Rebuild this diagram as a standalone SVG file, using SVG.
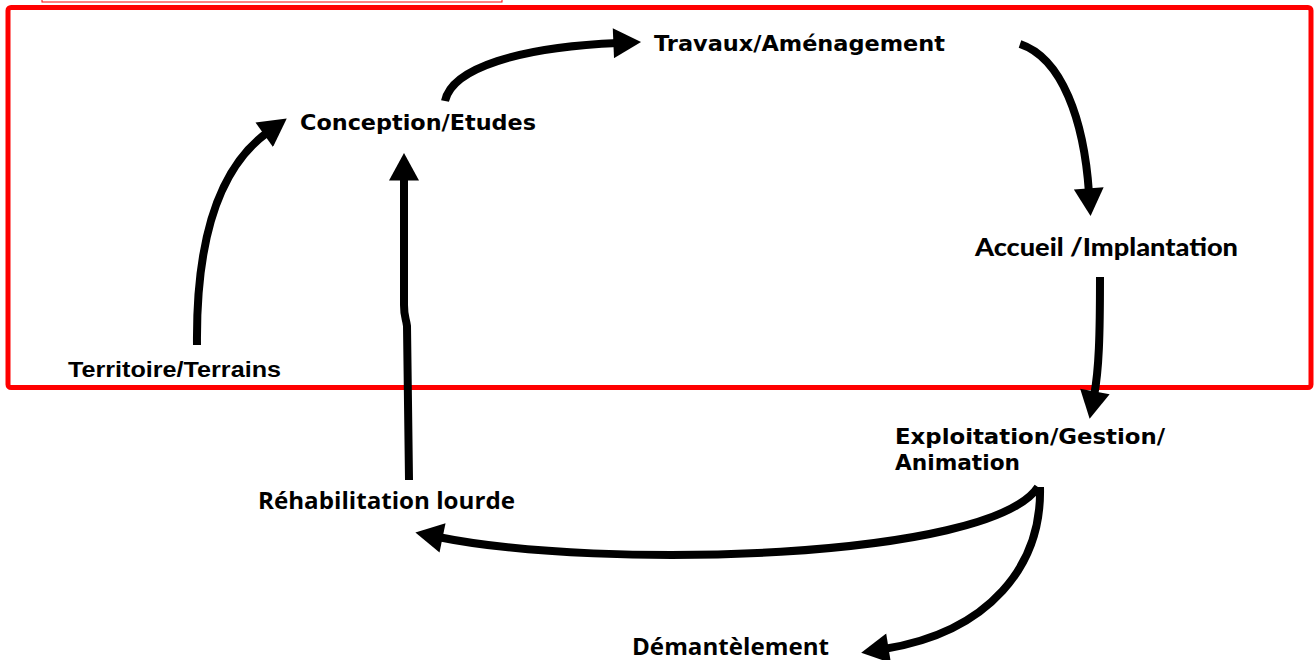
<svg xmlns="http://www.w3.org/2000/svg" width="1314" height="660" viewBox="0 0 1314 660">
  <style>
    .lbl { fill: #000; font-weight: bold; }
    .verd { font-family: "DejaVu Sans", Verdana, sans-serif; font-size: 21px; }
    .cal { font-family: Lato, "Open Sans", sans-serif; font-size: 25px; font-weight: 900; }
    .ari { font-family: "Liberation Sans", Arial, sans-serif; font-size: 22px; }
    .cond { font-family: "Open Sans", "Liberation Sans", sans-serif; font-size: 24px; }
    .flow { fill: none; stroke: #000; stroke-width: 8; marker-end: url(#head); }
  </style>
  <defs>
    <marker id="head" markerUnits="userSpaceOnUse" markerWidth="30" markerHeight="30" viewBox="0 0 24 26" refX="4" refY="13" orient="auto">
      <path d="M0,0 L24,13 L0,26 Z" fill="#000"/>
    </marker>
  </defs>

  <!-- frames -->
  <rect x="42" y="-10" width="460" height="12" fill="none" stroke="#ff0000" stroke-width="1"/>
  <rect x="8" y="7.5" width="1303" height="380" rx="3" fill="none" stroke="#ff0000" stroke-width="5"/>

  <!-- connectors -->
  <g id="connectors">
    <path class="flow" d="M197,345 C196,250 215,170 268,132"/>
    <path class="flow" d="M445,101 C452,68 520,47 618,43"/>
    <path class="flow" d="M1020,44 C1062,58 1084,120 1089,193"/>
    <path class="flow" d="M1100,277 C1100,335 1099,370 1094,396"/>
    <path class="flow" d="M409,480 L407,326 C406,318 404,317 404,305 L404,176"/>
    <path class="flow" d="M1038,487 C990,560 600,570 438,537"/>
    <path class="flow" d="M1040,487 C1042,565 990,632 884,649"/>
  </g>

  <!-- nodes -->
  <g id="n-travaux"><text class="lbl verd" x="654" y="51" textLength="291" lengthAdjust="spacingAndGlyphs">Travaux/Aménagement</text></g>
  <g id="n-conception"><text class="lbl verd" x="300" y="130" textLength="236" lengthAdjust="spacingAndGlyphs">Conception/Etudes</text></g>
  <g id="n-accueil"><text class="lbl cal" x="975" y="256" textLength="263" lengthAdjust="spacingAndGlyphs">Accueil /Implantation</text></g>
  <g id="n-territoire"><text class="lbl ari" x="68" y="377" textLength="213" lengthAdjust="spacingAndGlyphs">Territoire/Terrains</text></g>
  <g id="n-exploitation">
    <text class="lbl verd" x="895" y="444" textLength="270" lengthAdjust="spacingAndGlyphs">Exploitation/Gestion/</text>
    <text class="lbl verd" x="895" y="470" textLength="125" lengthAdjust="spacingAndGlyphs">Animation</text>
  </g>
  <g id="n-rehabilitation"><text class="lbl cond" x="258" y="509" textLength="257" lengthAdjust="spacingAndGlyphs">Réhabilitation lourde</text></g>
  <g id="n-demantelement"><text class="lbl cond" x="632" y="655" textLength="197" lengthAdjust="spacingAndGlyphs">Démantèlement</text></g>
</svg>
